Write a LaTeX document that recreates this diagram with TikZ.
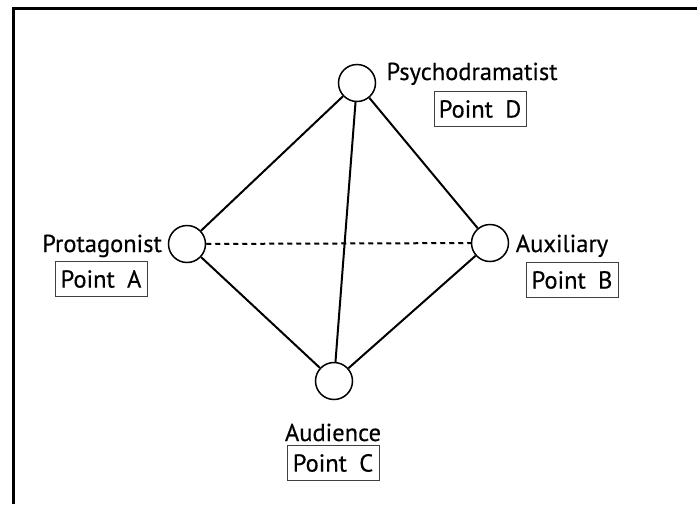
\documentclass[tikz,border=0pt]{standalone}
\usepackage{fontspec}
\setmainfont[FakeBold=0.4]{PT Sans}
\begin{document}
\begin{tikzpicture}[x=1pt,y=-1pt,
  vtx/.style={circle,draw,line width=1.5pt,minimum size=37pt,inner sep=0pt,fill=white},
  edge/.style={line width=2pt},
  lbl/.style={font=\fontsize{24.5}{28}\selectfont,anchor=base,inner sep=0pt},
  ptbox/.style={draw=black!75,line width=0.8pt,font=\fontsize{24.5}{28}\selectfont,minimum width=92pt,minimum height=35pt,inner sep=3pt}]
\useasboundingbox (0,0) rectangle (697,504);
\draw[line width=3pt] (13.5,504) -- (13.5,8.5) -- (697,8.5);
\node[vtx] (D) at (357,83) {};
\node[vtx] (A) at (187,244) {};
\node[vtx] (B) at (490,243) {};
\node[vtx] (C) at (334,381) {};
\draw[edge] (D) -- (A);
\draw[edge] (D) -- (B);
\draw[edge] (D) -- (C);
\draw[edge] (A) -- (C);
\draw[edge] (B) -- (C);
\draw[edge,dashed,dash pattern=on 5pt off 4pt] (A) -- (B);
\node[lbl] (tD) at (472,80) {Psychodramatist};
\node[ptbox] (pD) at (480,109) {Point\enspace D};
\node[lbl] (tA) at (102,252) {Protagonist};
\node[ptbox] (pA) at (101,279) {Point\enspace A};
\node[lbl] (tB) at (562,252) {Auxiliary};
\node[ptbox] (pB) at (572,280) {Point\enspace B};
\node[lbl] (tC) at (333,441) {Audience};
\node[ptbox] (pC) at (333,463) {Point\enspace C};
\end{tikzpicture}
\end{document}
